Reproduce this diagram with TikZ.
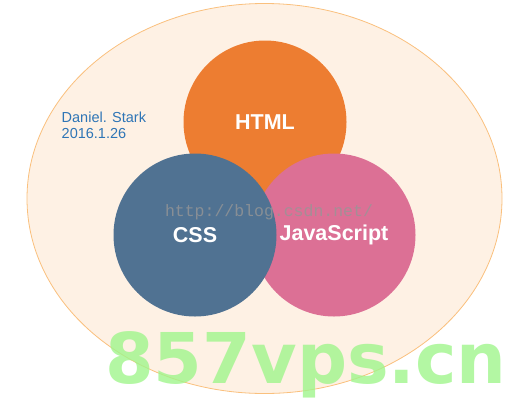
\documentclass[tikz,border=0pt]{standalone}
\usepackage{fontspec}
\setmainfont{Liberation Sans}
\newfontfamily\urlfont{Liberation Mono}
\newfontfamily\sitefont{DejaVu Sans}
\definecolor{bgc}{RGB}{254,241,228}
\definecolor{bordc}{RGB}{250,192,125}
\definecolor{htmlc}{RGB}{237,125,49}
\definecolor{cssc}{RGB}{80,114,146}
\definecolor{jsc}{RGB}{220,112,149}
\definecolor{authc}{RGB}{46,117,182}
\definecolor{urlc}{RGB}{150,150,150}
\definecolor{sitec}{RGB}{160,245,140}

\begin{document}
\begin{tikzpicture}[x=1pt,y=-1pt,
  ring/.style={circle,minimum size=163pt,inner sep=0pt,text=white,
    font=\fontsize{21.5}{24}\selectfont\bfseries},
  note/.style={anchor=base west,inner sep=0pt,text=authc,
    font=\fontsize{14.5}{16}\selectfont}]
  \useasboundingbox (0,0) rectangle (521,402);
  % background
  \draw[draw=bordc,fill=bgc,line width=0.8pt] (264.5,198.5) ellipse [x radius=237.5, y radius=195];

  % the three circles
  \node[ring,fill=htmlc] (html) at (265,122) {HTML};
  \node[ring,fill=jsc] (js) at (334,235) {JavaScript};
  \node[ring,fill=cssc] (css) at (195,235) {CSS};

  \node[note] (author) at (61.5,122.3) {Daniel. Stark};
  \node[note] (date) at (61.5,138.3) {2016.1.26};

  % watermarks
  \node[anchor=base,inner sep=0pt,text=urlc,text opacity=0.8,
    font=\urlfont\fontsize{16.5}{18}\selectfont] (url) at (269,216) {http://blog.csdn.net/};
  \node[anchor=base west,inner sep=0pt,text=sitec,text opacity=0.8,
    font=\sitefont\bfseries\fontsize{70}{80}\selectfont] (site) at (105,383) {857vps.cn};
\end{tikzpicture}
\end{document}
